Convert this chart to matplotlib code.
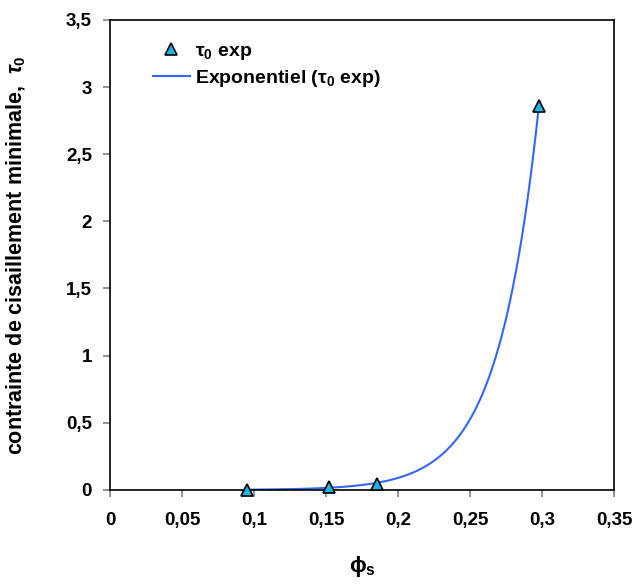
import numpy as np
import matplotlib
matplotlib.use("Agg")
import matplotlib.pyplot as plt

plt.rcParams['font.family'] = ['Liberation Sans', 'DejaVu Sans']
plt.rcParams['mathtext.fontset'] = 'custom'
plt.rcParams['mathtext.rm'] = 'Liberation Sans:bold'
plt.rcParams['mathtext.it'] = 'Liberation Sans:bold:italic'
plt.rcParams['mathtext.bf'] = 'Liberation Sans:bold'

phi_s = np.array([0.095, 0.152, 0.185, 0.298])
tau0 = np.array([0.002, 0.02, 0.048, 2.86])

xticks = [0, 0.05, 0.1, 0.15, 0.2, 0.25, 0.3, 0.35]
xticklabels = ['0', '0,05', '0,1', '0,15', '0,2', '0,25', '0,3', '0,35']
yticks = [0, 0.5, 1, 1.5, 2, 2.5, 3, 3.5]
yticklabels = ['0', '0,5', '1', '1,5', '2', '2,5', '3', '3,5']

# exponential trendline fitted on data
b, lna = np.polyfit(phi_s, np.log(tau0), 1)
xf = np.linspace(phi_s.min(), phi_s.max(), 300)
yf = np.exp(lna) * np.exp(b * xf)

fig = plt.figure(figsize=(6.32, 5.84), dpi=100)
ax = fig.add_axes([0.174, 0.161, 0.798, 0.805])

ax.plot(phi_s, tau0, linestyle='none', marker='^', markersize=8,
        markerfacecolor='#1BB6E8', markeredgecolor='black', markeredgewidth=1.2,
        label='τ$_0$ exp', zorder=3, clip_on=False)
ax.plot(xf, yf, color='#3366FF', linewidth=1.5,
        label='Exponentiel (τ$_0$ exp)', zorder=2)

ax.set_xlim(0, 0.35)
ax.set_ylim(0, 3.5)
ax.set_xticks(xticks)
ax.set_xticklabels(xticklabels)
ax.set_yticks(yticks)
ax.set_yticklabels(yticklabels)
for lab in ax.get_xticklabels() + ax.get_yticklabels():
    lab.set_fontweight('bold')
    lab.set_fontsize(13.5)
ax.tick_params(axis='both', direction='out', length=5, color='#808080', width=1.2)
ax.tick_params(axis='x', pad=11)
ax.tick_params(axis='y', pad=8)
for s in ax.spines.values():
    s.set_color('black')
    s.set_linewidth(1.2)

ax.set_xlabel('ϕ$_\\mathrm{s}$', fontsize=16, fontweight='bold', labelpad=18)
ax.set_ylabel('contrainte de cisaillement minimale,  $\\mathit{τ_0}$',
              fontsize=15.5, fontweight='bold')
ax.yaxis.set_label_coords(-0.163, 0.5)

leg = ax.legend(loc='upper left', bbox_to_anchor=(0.05, 0.99), frameon=False,
                prop={'weight': 'bold', 'size': 14}, handlelength=1.9,
                handletextpad=0.3, labelspacing=0.3)

fig.savefig('out.png', dpi=100)
